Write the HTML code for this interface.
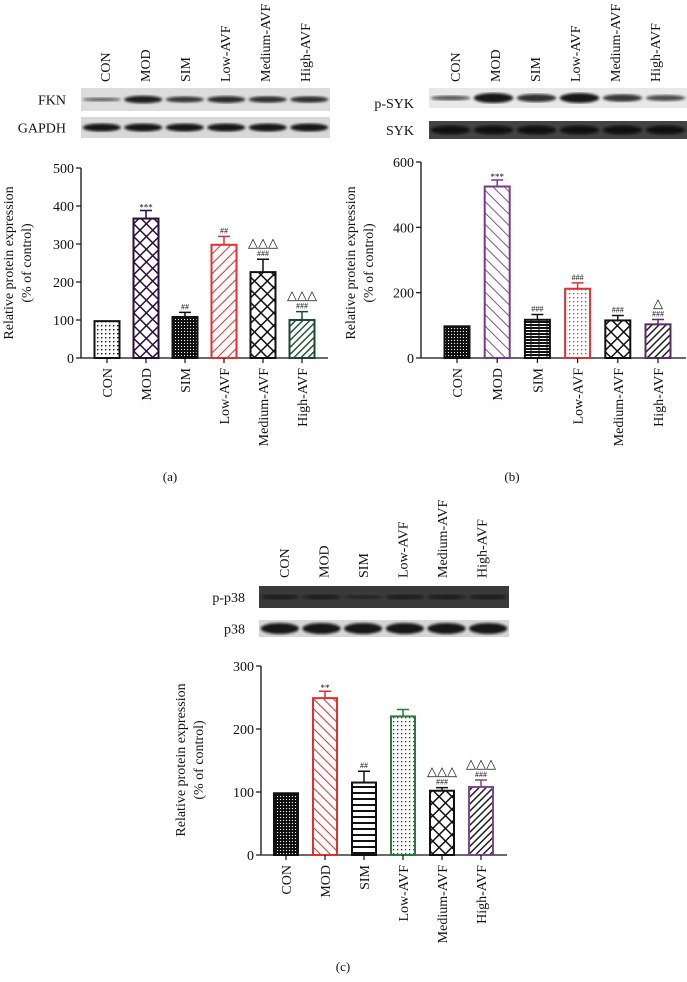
<!DOCTYPE html>
<html><head><meta charset="utf-8">
<style>
html,body{margin:0;padding:0;background:#fff;}
svg{display:block;font-family:"Liberation Serif",serif;}
</style></head>
<body>
<svg id="fig" width="687" height="982" viewBox="0 0 687 982">
<defs>
<pattern id="pDots" width="4" height="4" patternUnits="userSpaceOnUse"><rect width="4" height="4" fill="#fff"/><rect x="1" y="1" width="1.4" height="1.4" fill="#111"/></pattern>
<pattern id="pDense" width="3" height="3" patternUnits="userSpaceOnUse"><rect width="3" height="3" fill="#111"/><rect x="1" y="1" width="1" height="1" fill="#fff"/></pattern>
<pattern id="pDotsRed" width="4" height="4" patternUnits="userSpaceOnUse"><rect width="4" height="4" fill="#fff"/><rect x="1" y="1" width="1.3" height="1.3" fill="#d33"/></pattern>
<pattern id="pDotsGrey" width="4" height="4" patternUnits="userSpaceOnUse"><rect width="4" height="4" fill="#fff"/><rect x="1" y="1" width="1.3" height="1.3" fill="#333"/></pattern>
<pattern id="pXPurple" width="9" height="9" patternUnits="userSpaceOnUse" patternTransform="rotate(45)"><rect width="9" height="9" fill="#fff"/><path d="M0 0H9M0 0V9" stroke="#2a0f3a" stroke-width="3"/></pattern>
<pattern id="pXBlack" width="9" height="9" patternUnits="userSpaceOnUse" patternTransform="rotate(45)"><rect width="9" height="9" fill="#fff"/><path d="M0 0H9M0 0V9" stroke="#111" stroke-width="3"/></pattern>
<pattern id="pSlashRed" width="7" height="7" patternUnits="userSpaceOnUse" patternTransform="rotate(45)"><rect width="7" height="7" fill="#fff"/><path d="M0 0V7" stroke="#e03030" stroke-width="2"/></pattern>
<pattern id="pBackRed" width="7" height="7" patternUnits="userSpaceOnUse" patternTransform="rotate(-45)"><rect width="7" height="7" fill="#fff"/><path d="M0 0V7" stroke="#e03030" stroke-width="2"/></pattern>
<pattern id="pBackPurple" width="8" height="8" patternUnits="userSpaceOnUse" patternTransform="rotate(-45)"><rect width="8" height="8" fill="#fff"/><path d="M0 0V8" stroke="#7a3a8a" stroke-width="1.8"/></pattern>
<pattern id="pSlashGreen" width="5" height="5" patternUnits="userSpaceOnUse" patternTransform="rotate(45)"><rect width="5" height="5" fill="#fff"/><path d="M0 0V5" stroke="#1a4a30" stroke-width="2.8"/></pattern>
<pattern id="pSlashBlack" width="5" height="5" patternUnits="userSpaceOnUse" patternTransform="rotate(45)"><rect width="5" height="5" fill="#fff"/><path d="M0 0V5" stroke="#111" stroke-width="2.8"/></pattern>
<pattern id="pHLines" width="6" height="6" patternUnits="userSpaceOnUse"><rect width="6" height="6" fill="#fff"/><path d="M0 1H6" stroke="#111" stroke-width="2"/></pattern>
<pattern id="pBrick" width="8" height="6" patternUnits="userSpaceOnUse"><rect width="8" height="6" fill="#fff"/><path d="M0 1H8M0 4H8" stroke="#111" stroke-width="2"/><path d="M3 0V6" stroke="#111" stroke-width="1"/></pattern>
<filter id="blur1"><feGaussianBlur stdDeviation="1.4"/></filter>
</defs>
<g id="layer"></g>
</svg>
<script>
// ---- data ----
const groups = ["CON","MOD","SIM","Low-AVF","Medium-AVF","High-AVF"];
const valuesA = [97, 367, 108, 298, 226, 100];
const errorsA = [0, 21, 12, 22, 34, 22];
const valuesB = [97, 525, 117, 212, 115, 103];
const errorsB = [0, 20, 16, 18, 15, 15];
const valuesC = [98, 249, 115, 220, 102, 108];
const errorsC = [0, 11, 18, 11, 5, 11];
const ticksA = [0,100,200,300,400,500];
const ticksB = [0,200,400,600];
const ticksC = [0,100,200,300];
const sigA = ["","***","##","##","###","###"];
const triA = ["","","","","△△△","△△△"];
const sigB = ["","***","###","###","###","###"];
const triB = ["","","","","","△"];
const sigC = ["","**","##","","###","###"];
const triC = ["","","","","△△△","△△△"];

const NS="http://www.w3.org/2000/svg";
const layer=document.getElementById('layer');
function mk(tag,attrs,parent){const e=document.createElementNS(NS,tag);for(const k in attrs)e.setAttribute(k,attrs[k]);(parent||layer).appendChild(e);return e;}
function txt(s,x,y,size,anchor,rot,parent){const t=mk('text',{x:x,y:y,'font-size':size,'text-anchor':anchor||'middle',fill:'#111'},parent);if(rot)t.setAttribute('transform','rotate(-90 '+x+' '+y+')');t.textContent=s;return t;}

function chart(cfg){
  const g=mk('g',{});
  
  
  const yMax=cfg.ticks[cfg.ticks.length-1];
  const ys=v=>cfg.y0-(v/yMax)*(cfg.y0-cfg.yTop);
  const ya=mk('line',{x1:cfg.ax,x2:cfg.ax,y1:ys(yMax),y2:cfg.y0,stroke:'#111','stroke-width':1.3},g);
  
  const xa=mk('line',{x1:cfg.ax,x2:cfg.axEnd,y1:cfg.y0,y2:cfg.y0,stroke:'#111','stroke-width':1.3},g);
  
  cfg.ticks.forEach(t=>{
    mk('line',{x1:cfg.ax-5,x2:cfg.ax,y1:ys(t),y2:ys(t),stroke:'#111','stroke-width':1.2},g);
    const tl=txt(String(t),cfg.ax-7,ys(t)+5,14,'end',false,g);
    
  });
  const t1=txt('Relative protein expression',cfg.titleX,cfg.titleY,14,'middle',true,g);
  
  const t2=txt('(% of control)',cfg.titleX+18,cfg.titleY,14,'middle',true,g);
  
  groups.forEach((gname,i)=>{
    const cx=cfg.x0+i*cfg.step;
    const v=cfg.values[i], e=cfg.errors[i];
    const top=ys(v);
    const bw=cfg.bw;
    if(e>0){
      const eb=mk('path',{d:'M'+cx+' '+top+'V'+ys(v+e)+'M'+(cx-6)+' '+ys(v+e)+'H'+(cx+6),stroke:cfg.strokes[i],'stroke-width':1.5,fill:'none'},g);
      
    }
    const r=mk('rect',{x:cx-bw/2,y:top,width:bw,height:cfg.y0-top,fill:cfg.fills[i],stroke:cfg.strokes[i],'stroke-width':2},g);
    
    
    mk('line',{x1:cx,x2:cx,y1:cfg.y0,y2:cfg.y0+5,stroke:'#111','stroke-width':1.2},g);
    const xl=txt(gname,cx+5,cfg.y0+10,14,'end',true,g);
    
    const sy=ys(v+e)-3;
    if(cfg.sig[i]){
      const st=cfg.sig[i].indexOf('*')>=0;
      const s=txt(cfg.sig[i],cx,sy+(st?3:0),st?9:8,'middle',false,g);
      
    }
    if(cfg.tri[i]){
      const s=txt(cfg.tri[i],cx,sy-(cfg.sig[i]?9:0),13,'middle',false,g);
      
    }
  });
}

chart({name:'chart-a-fkn',values:valuesA,errors:errorsA,ticks:ticksA,sig:sigA,tri:triA,
  ax:81,axEnd:328,y0:358,yTop:168,x0:107,step:39,bw:25,titleX:13,titleY:263,
  fills:['url(#pDots)','url(#pXPurple)','url(#pDense)','url(#pSlashRed)','url(#pXBlack)','url(#pSlashGreen)'],
  strokes:['#111','#2a0f3a','#111','#e03030','#111','#1a4a30']});
chart({name:'chart-b-psyk',values:valuesB,errors:errorsB,ticks:ticksB,sig:sigB,tri:triB,
  ax:421,axEnd:686,y0:358,yTop:162,x0:457,step:40.2,bw:25,titleX:355,titleY:263,
  fills:['url(#pDense)','url(#pBackPurple)','url(#pBrick)','url(#pDotsRed)','url(#pXBlack)','url(#pSlashBlack)'],
  strokes:['#111','#7a3a8a','#111','#d33','#111','#5a2a6a']});
chart({name:'chart-c-pp38',values:valuesC,errors:errorsC,ticks:ticksC,sig:sigC,tri:triC,
  ax:261,axEnd:507,y0:855,yTop:666,x0:286,step:39,bw:24,titleX:185,titleY:760,
  fills:['url(#pDense)','url(#pBackRed)','url(#pHLines)','url(#pDotsGrey)','url(#pXBlack)','url(#pSlashBlack)'],
  strokes:['#111','#e03030','#111','#2a7a40','#111','#7a4a8a']});

// ---- blots ----
function blot(name,x,y,w,h,bg,bandCol,bandH,strengths,label,labelX,labelY){
  const g=mk('g',{});
  
  
  mk('rect',{x:x,y:y,width:w,height:h,fill:bg},g);
  const lw=w/6;
  strengths.forEach((s,i)=>{
    const b=mk('ellipse',{cx:x+lw*(i+0.5),cy:y+h/2,rx:lw*0.46,ry:bandH*s/2,fill:bandCol,opacity:Math.min(1,0.35+s*0.6),filter:'url(#blur1)'},g);
    
  });
  const l=txt(label,labelX,labelY||(y+h/2+5),14,'end',false,g);
  
}
function lanes(x0,step,yb,name){
  groups.forEach((gname,i)=>{
    const t=txt(gname,x0+i*step+5,yb,14,'start',true);
    
  });
}
lanes(105,40,82,'lane-label-a');
blot('blot-fkn',81,88,249,23,'#dcdcdc','#111',8,[0.45,0.95,0.75,0.85,0.8,0.8],'FKN',66);
blot('blot-gapdh',81,117,249,21,'#d8d8d8','#111',8,[1,1,1,1,1,1],'GAPDH',66);
lanes(455,40,82,'lane-label-b');
blot('blot-psyk',429,88,258,20,'#e8e8e8','#111',10,[0.5,1,0.8,1,0.75,0.6],'p-SYK',414,108);
blot('blot-syk',429,121,258,18,'#444','#0a0a0a',9,[1,1,1,1,1,1],'SYK',414);
lanes(284,39.5,578,'lane-label-c');
blot('blot-pp38',259,586,250,22,'#3a3a3a','#151515',6,[0.8,0.8,0.6,0.8,0.8,0.8],'p-p38',245);
blot('blot-p38',259,620,250,17,'#d6d6d6','#111',11,[1,1,1,1,1,1],'p38',245);

[['(a)',170,481],['(b)',512,481],['(c)',343,971]].forEach(c=>{
  const t=txt(c[0],c[1],c[2],13,'middle',false);
  
});
</script>
</body></html>
